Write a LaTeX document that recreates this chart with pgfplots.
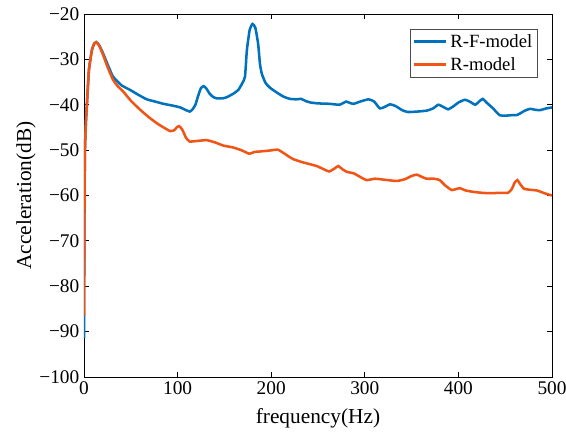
\documentclass[border=0pt]{standalone}
\usepackage{fontspec}
\setmainfont{Liberation Serif}
\usepackage{pgfplots}
\pgfplotsset{compat=1.18}
\definecolor{mblue}{rgb}{0,0.447,0.741}
\definecolor{morange}{RGB}{240,85,22}

\begin{document}
\begin{tikzpicture}
\path[use as bounding box] (-63pt,-43.5pt) rectangle (361.5pt,282.75pt);
\begin{axis}[
  at={(0,0)}, anchor=south west,
  scale only axis,
  width=351pt, height=272.25pt,
  xmin=0, xmax=500, ymin=-100, ymax=-20,
  xtick={0,100,...,500},
  ytick={-100,-90,...,-20},
  yticklabels={−100,−90,−80,−70,−60,−50,−40,−30,−20},
  xticklabels={0,100,200,300,400,500},
  tick align=inside,
  major tick length=3.75pt,
  axis line style={line width=0.6pt},
  tick style={line width=0.6pt, black},
  ticklabel style={font=\fontsize{14.5}{16}\selectfont},
  xlabel={frequency(Hz)},
  ylabel={Acceleration(dB)},
  label style={font=\fontsize{16}{18}\selectfont},
  xlabel style={at={(axis description cs:0.5,-0.113)}, anchor=center},
  ylabel style={at={(axis description cs:-0.124,0.5)}, anchor=center},
  legend style={at={(0.97,0.96)}, anchor=north east, draw=black!70,
    line width=0.5pt, font=\fontsize{14}{15}\selectfont,
    inner xsep=2pt, inner ysep=2pt, row sep=2pt},
  legend image code/.code={\draw[#1,line width=1.9pt] (0pt,0pt) -- (24pt,0pt);},
  legend cell align=left,
]
\addplot[mblue, line width=1.9pt, smooth, tension=0.3] coordinates {
(0,-91.4)(0.3,-75)(0.6,-60)(1,-50)(2,-44)(3.2,-39.6)(5.3,-32.3)(8.5,-27.9)(11,-26.5)(13,-26.2)(16,-26.8)(20,-28.5)(25,-31)(31,-33.8)(40,-35.7)(49,-36.7)(58,-37.8)(67,-38.8)(76,-39.3)(85,-39.8)(95,-40.2)(103,-40.6)(108,-41.1)(113,-41.5)(116,-41)(119,-40)(122,-38)(125,-36.3)(128,-35.9)(131,-36.5)(134,-37.5)(138,-38.3)(142,-38.6)(148,-38.6)(153,-38.3)(160,-37.5)(165,-36.7)(169,-35.3)(172,-33.8)(174,-28)(177,-23.5)(180,-22.2)(183,-23)(186,-26.5)(188,-31)(190,-33.2)(194,-35.2)(199,-36.3)(206,-37.3)(213,-38.2)(220,-38.7)(227,-38.8)(232,-38.7)(237,-39.2)(242,-39.5)(250,-39.7)(263,-39.8)(273,-40)(280,-39.3)(284,-39.6)(288,-39.8)(295,-39.3)(304,-38.8)(310,-39.3)(316,-40.8)(321,-40.5)(327,-39.9)(333,-40.3)(340,-41.2)(346,-41.6)(356,-41.5)(366,-41.3)(373,-40.8)(378.5,-40)(384,-40.5)(389,-41)(395,-40.3)(400,-39.5)(407,-38.9)(412,-39.3)(418,-40)(422,-39.3)(426,-38.7)(430,-39.5)(437,-40.8)(444,-42.3)(450,-42.4)(457,-42.3)(462,-42.3)(466,-41.9)(471,-41.3)(476.5,-40.9)(482,-41.1)(487,-41.2)(494,-40.8)(500,-40.6)
};
\addlegendentry{R-F-model}
\addplot[morange, line width=1.9pt, smooth, tension=0.3] coordinates {
(0,-86.5)(0.3,-72)(0.6,-60)(1,-50)(2,-44)(3.2,-39.6)(5.3,-32.3)(8.5,-27.9)(11,-26.5)(13,-26.2)(16,-26.9)(20,-28.8)(25,-31.6)(31,-34.5)(36,-35.9)(42,-37.1)(50,-39.1)(60,-41.1)(69,-42.7)(78,-44.1)(85,-45)(92,-45.8)(96.5,-45.6)(99,-45)(101.5,-44.7)(104,-45.2)(106,-45.9)(109,-47.3)(113,-48.1)(120,-48)(131,-47.8)(140,-48.3)(149,-49)(159,-49.4)(168,-50)(176.6,-50.8)(182,-50.4)(188,-50.3)(198,-50.1)(207,-49.9)(213,-50.6)(218,-51.3)(223.6,-52)(234,-52.7)(248.5,-53.5)(256,-54.2)(262,-54.7)(268,-54)(271.7,-53.5)(276,-54.2)(281,-54.8)(288,-55.1)(295,-55.9)(302,-56.6)(311,-56.3)(320,-56.5)(334,-56.8)(343,-56.4)(350,-55.7)(355.4,-55.4)(360,-55.8)(366,-56.3)(374,-56.3)(380,-56.6)(386,-57.8)(392.8,-58.8)(397,-58.6)(401.7,-58.4)(408,-58.9)(416,-59.2)(425,-59.4)(434,-59.5)(445,-59.4)(453,-59.4)(457,-58.6)(460,-57.2)(463,-56.6)(466,-57.5)(470,-58.5)(475,-58.7)(484,-58.9)(492,-59.5)(500,-60)
};
\addlegendentry{R-model}
\end{axis}
\end{tikzpicture}
\end{document}
